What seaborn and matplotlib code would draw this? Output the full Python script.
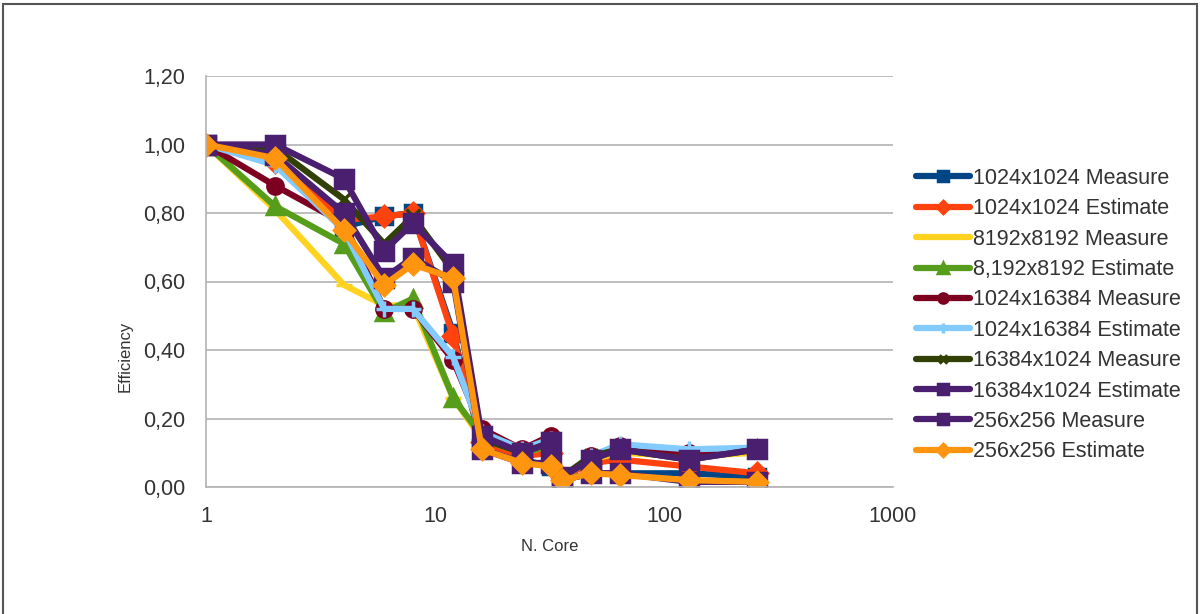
import matplotlib
matplotlib.use("Agg")
import matplotlib.pyplot as plt
import matplotlib.ticker as mticker
from matplotlib.patches import Rectangle
import seaborn as sns
import pandas as pd

sns.set_theme(style="white")
plt.rcParams["font.family"] = ["Liberation Sans", "DejaVu Sans"]

cores = [1, 2, 4, 6, 8, 12, 16, 24, 32, 36, 48, 64, 128, 256]

series_names = [
    "1024x1024 Measure",
    "1024x1024 Estimate",
    "8192x8192 Measure",
    "8,192x8192 Estimate",
    "1024x16384 Measure",
    "1024x16384 Estimate",
    "16384x1024 Measure",
    "16384x1024 Estimate",
    "256x256 Measure",
    "256x256 Estimate",
]

m1024 = [1.00, 0.97, 0.76, 0.79, 0.80, 0.45, 0.12, 0.08, 0.06, 0.02, 0.04, 0.04, 0.04, 0.03]
e1024 = [1.00, 0.95, 0.78, 0.79, 0.80, 0.44, 0.13, 0.09, 0.10, 0.03, 0.07, 0.08, 0.06, 0.04]
m8192 = [1.00, 0.81, 0.59, 0.53, 0.53, 0.26, 0.14, 0.10, 0.12, 0.03, 0.08, 0.10, 0.09, 0.10]
e8192 = [1.00, 0.82, 0.71, 0.51, 0.55, 0.26, 0.15, 0.10, 0.12, 0.03, 0.08, 0.11, 0.10, 0.11]
m1024x16384 = [1.00, 0.88, 0.77, 0.52, 0.52, 0.37, 0.17, 0.11, 0.15, 0.03, 0.09, 0.12, 0.10, 0.11]
e1024x16384 = [1.00, 0.94, 0.75, 0.52, 0.52, 0.38, 0.16, 0.11, 0.14, 0.03, 0.09, 0.125, 0.11, 0.115]
m16384x1024 = [1.00, 0.99, 0.84, 0.71, 0.79, 0.63, 0.14, 0.10, 0.13, 0.03, 0.09, 0.11, 0.08, 0.11]
e16384x1024 = [1.00, 1.00, 0.90, 0.69, 0.77, 0.65, 0.15, 0.10, 0.13, 0.03, 0.08, 0.11, 0.08, 0.11]
m256 = [1.00, 0.97, 0.80, 0.61, 0.67, 0.60, 0.11, 0.07, 0.07, 0.02, 0.04, 0.04, 0.015, 0.015]
e256 = [1.00, 0.96, 0.75, 0.59, 0.65, 0.61, 0.11, 0.07, 0.06, 0.02, 0.04, 0.035, 0.02, 0.015]

values = [m1024, e1024, m8192, e8192, m1024x16384, e1024x16384,
          m16384x1024, e16384x1024, m256, e256]

colors = ["#004586", "#ff420e", "#ffd320", "#579d1c", "#7e0021",
          "#83caff", "#314004", "#4b1f6f", "#4b1f6f", "#ff950e"]
markers = ["s", "D", "_", "^", "o", "+", "x", "s", "s", "D"]
msizes = [12, 10, 12, 11, 11, 12, 10, 13, 13, 10]

y_ticks = [0.0, 0.2, 0.4, 0.6, 0.8, 1.0, 1.2]
x_ticks = [1, 10, 100, 1000]

W, H = 1201, 614
fig = plt.figure(figsize=(W / 100, H / 100), dpi=100)
ax = fig.add_axes([206 / W, 1 - 487 / H, (893 - 206) / W, (487 - 76) / H])

for name, vals, c, m, ms in zip(series_names, values, colors, markers, msizes):
    df = pd.DataFrame({"cores": cores, "eff": vals})
    sns.lineplot(data=df, x="cores", y="eff", ax=ax, color=c, marker=m,
                 markersize=ms, markeredgecolor=c, markeredgewidth=2.5,
                 linewidth=4.5, label=name, sort=True)

ax.set_xscale("log")
ax.set_xlim(1, 1000)
ax.set_ylim(0, 1.2)
ax.set_xticks(x_ticks)
ax.xaxis.set_major_formatter(mticker.FuncFormatter(lambda v, p: f"{int(round(v))}"))
ax.xaxis.set_minor_locator(mticker.NullLocator())
ax.set_yticks(y_ticks)
ax.yaxis.set_major_formatter(mticker.FuncFormatter(lambda v, p: f"{v:.2f}".replace(".", ",")))

ax.grid(axis="y", color="#b3b3b3", linewidth=1.2)
ax.grid(axis="x", visible=False)
ax.set_axisbelow(True)
for side in ["top", "right"]:
    ax.spines[side].set_visible(False)
for side in ["left", "bottom"]:
    ax.spines[side].set_color("#b3b3b3")
    ax.spines[side].set_linewidth(1.2)

ax.tick_params(axis="both", which="major", labelsize=15.5, colors="#333333",
               length=5, width=1.2, direction="out", color="#b3b3b3")
ax.tick_params(axis="x", pad=9)
ax.tick_params(axis="y", pad=10)

ax.set_xlabel("N. Core", fontsize=12, color="#333333", labelpad=8)
ax.set_ylabel("Efficiency", fontsize=12, color="#333333")
ax.yaxis.set_label_coords((133 - 206) / (893 - 206), (487 - 356) / (487 - 76))

leg = ax.legend(loc="upper left", bbox_to_anchor=(916 / W, 1 - 168 / H),
                bbox_transform=fig.transFigure, frameon=False, fontsize=15.5,
                handlelength=2.5, handletextpad=0.15, labelspacing=0.435,
                borderaxespad=0, borderpad=0, markerscale=0.6)
for t in leg.get_texts():
    t.set_color("#333333")

fig.patches.append(Rectangle((3 / W, -0.02), (1197 - 3) / W, 1 - 4 / H + 0.02,
                             transform=fig.transFigure, fill=False,
                             edgecolor="#555555", linewidth=1.5))

fig.savefig("out.png", dpi=100, facecolor="white")
